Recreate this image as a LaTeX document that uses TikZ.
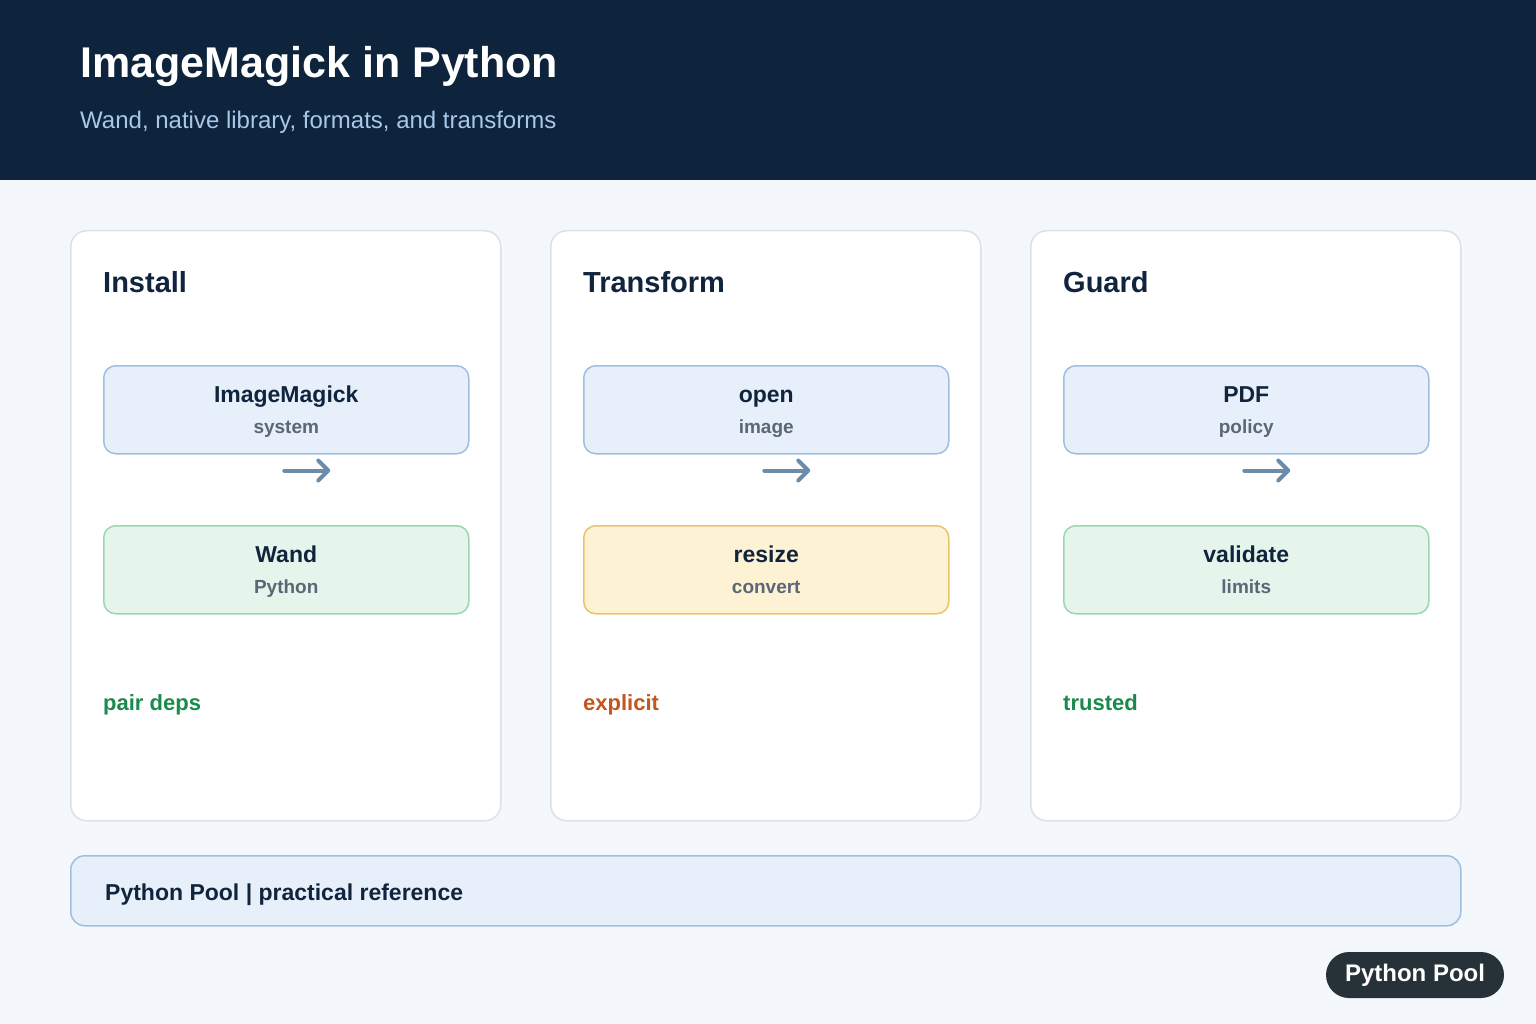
\documentclass[tikz,border=0pt]{standalone}
\usepackage{fontspec}
\setmainfont{Liberation Sans}
\usetikzlibrary{arrows.meta,positioning,calc}
\definecolor{headbg}{HTML}{0E243C}
\definecolor{headsub}{HTML}{A9C7E8}
\definecolor{pagebg}{HTML}{F4F7FB}
\definecolor{panelline}{HTML}{D8E1EC}
\definecolor{ink}{HTML}{10243D}
\definecolor{subgray}{HTML}{5B6676}
\definecolor{bluefill}{HTML}{E7EFFA}
\definecolor{blueline}{HTML}{9FBFE2}
\definecolor{greenfill}{HTML}{E6F5EC}
\definecolor{greenline}{HTML}{9CD5B2}
\definecolor{yellowfill}{HTML}{FEF2D5}
\definecolor{yellowline}{HTML}{E9C46D}
\definecolor{arrowblue}{HTML}{6D8CAA}
\definecolor{notegreen}{HTML}{1B8A4E}
\definecolor{noteorange}{HTML}{C2561E}
\definecolor{badgebg}{HTML}{263238}

\begin{document}
\begin{tikzpicture}[x=1pt,y=-1pt,
    panel/.style={draw=panelline,fill=white,line width=1.5pt,rounded corners=16pt,minimum width=430pt,minimum height=590pt,anchor=north west},
    item/.style={draw,line width=1.5pt,rounded corners=12pt,minimum width=365pt,minimum height=88pt,anchor=north west},
    paneltitle/.style={anchor=base west,inner sep=0pt,text=ink,font=\fontsize{29}{33}\selectfont\bfseries},
    itemmain/.style={anchor=base,inner sep=0pt,text=ink,font=\fontsize{23}{27}\selectfont\bfseries},
    itemsub/.style={anchor=base,inner sep=0pt,text=subgray,font=\fontsize{19}{23}\selectfont\bfseries},
    note/.style={anchor=base west,inner sep=0pt,font=\fontsize{22}{26}\selectfont\bfseries},
    flow/.style={draw=arrowblue,line width=4pt,line cap=round,-{Straight Barb[length=10pt,width=20pt,round]}}
]
% page and header
\fill[pagebg] (0,0) rectangle (1536,1024);
\fill[headbg] (0,0) rectangle (1536,180);
\node[anchor=base west,inner sep=0pt,text=white,font=\fontsize{43}{49}\selectfont\bfseries] (title) at (80,78) {ImageMagick in Python};
\node[anchor=base west,inner sep=0pt,text=headsub,font=\fontsize{24}{28}\selectfont] (subtitle) at (80,129) {Wand, native library, formats, and transforms};

% panels
\node[panel] (install) at (70,230) {};
\node[panel] (transform) at (550,230) {};
\node[panel] (guard) at (1030,230) {};

\node[paneltitle] (installT) at (103,292) {Install};
\node[paneltitle] (transformT) at (583,292) {Transform};
\node[paneltitle] (guardT) at (1063,292) {Guard};

% Install
\node[item,fill=bluefill,draw=blueline] (magick) at (103,365) {};
\node[itemmain] (magickA) at ($(magick.center)+(0,-7)$) {ImageMagick};
\node[itemsub] (magickB) at ($(magick.center)+(0,24)$) {system};
\node[item,fill=greenfill,draw=greenline] (wand) at (103,525) {};
\node[itemmain] (wandA) at ($(wand.center)+(0,-7)$) {Wand};
\node[itemsub] (wandB) at ($(wand.center)+(0,24)$) {Python};
\coordinate (installS) at ($(magick.south)+(-2,16)$);
\coordinate (installE) at ($(magick.south)+(44,16)$);
\draw[flow] (installS) -- (installE);
\node[note,text=notegreen] (installN) at (103,710) {pair deps};

% Transform
\node[item,fill=bluefill,draw=blueline] (open) at (583,365) {};
\node[itemmain] (openA) at ($(open.center)+(0,-7)$) {open};
\node[itemsub] (openB) at ($(open.center)+(0,24)$) {image};
\node[item,fill=yellowfill,draw=yellowline] (resize) at (583,525) {};
\node[itemmain] (resizeA) at ($(resize.center)+(0,-7)$) {resize};
\node[itemsub] (resizeB) at ($(resize.center)+(0,24)$) {convert};
\coordinate (transformS) at ($(open.south)+(-2,16)$);
\coordinate (transformE) at ($(open.south)+(44,16)$);
\draw[flow] (transformS) -- (transformE);
\node[note,text=noteorange] (transformN) at (583,710) {explicit};

% Guard
\node[item,fill=bluefill,draw=blueline] (pdf) at (1063,365) {};
\node[itemmain] (pdfA) at ($(pdf.center)+(0,-7)$) {PDF};
\node[itemsub] (pdfB) at ($(pdf.center)+(0,24)$) {policy};
\node[item,fill=greenfill,draw=greenline] (validate) at (1063,525) {};
\node[itemmain] (validateA) at ($(validate.center)+(0,-7)$) {validate};
\node[itemsub] (validateB) at ($(validate.center)+(0,24)$) {limits};
\coordinate (guardS) at ($(pdf.south)+(-2,16)$);
\coordinate (guardE) at ($(pdf.south)+(44,16)$);
\draw[flow] (guardS) -- (guardE);
\node[note,text=notegreen] (guardN) at (1063,710) {trusted};

% footer
\node[draw=blueline,fill=bluefill,line width=1.5pt,rounded corners=14pt,minimum width=1390pt,minimum height=70pt,anchor=north west] (footer) at (70,855) {};
\node[note,text=ink,font=\fontsize{23}{27}\selectfont\bfseries] (footerT) at (105,900) {Python Pool | practical reference};
\node[fill=badgebg,text=white,rounded corners=23pt,minimum width=178pt,minimum height=46pt,font=\fontsize{24}{28}\selectfont\bfseries] (badge) at (1415,975) {Python Pool};
\end{tikzpicture}
\end{document}
